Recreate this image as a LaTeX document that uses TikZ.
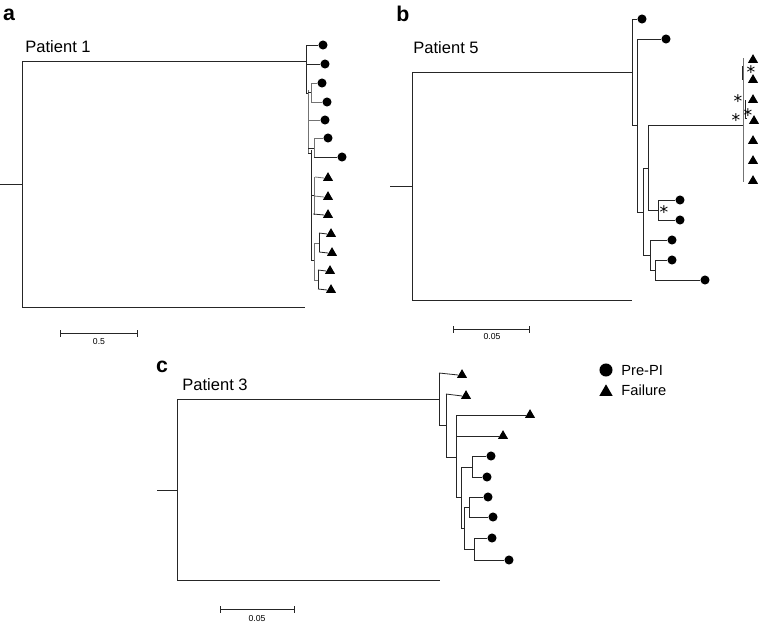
\documentclass[tikz,border=0pt]{standalone}
\usepackage{fontspec}
\setmainfont{Liberation Sans}
\newfontfamily\djvast{DejaVu Sans}
\usetikzlibrary{shapes.geometric}
\begin{document}
\begin{tikzpicture}[x=0.75pt,y=-0.75pt,
  every path/.style={line width=0.6pt},
  br/.style={draw=black!85},
  gbr/.style={draw=black!55},
  cir/.style={circle,fill=black,inner sep=0pt,minimum size=6.8pt},
  tri/.style={regular polygon,regular polygon sides=3,fill=black,inner sep=0pt,minimum size=8.8pt},
  ptitle/.style={font=\fontsize{12.4}{14}\selectfont,inner sep=0pt,anchor=base west},
  plabel/.style={font=\fontsize{16}{18}\selectfont\bfseries,inner sep=0pt},
  sclab/.style={font=\fontsize{6.5}{7}\selectfont,inner sep=0pt},
  astk/.style={font=\djvast\fontsize{13}{13}\selectfont,inner sep=0pt,anchor=base},
  legtxt/.style={font=\fontsize{11}{13}\selectfont,inner sep=0pt,anchor=base west}]
\useasboundingbox[fill=white] (0,0) rectangle (763,625);

% ---------------- Panel a ----------------
\node[plabel] (la) at (9,15) {a};
\node[ptitle] (ta) at (25,52) {Patient 1};
\coordinate (aroot) at (22,184);
\coordinate (astub) at (0,184);
\draw[br] (astub) -- (aroot);
\draw[br] (22,61) -- (22,307);
\draw[br] (22,61) -- (306,61);
\draw[br] (22,307) -- (305,307);
% tips
\node[cir] (a1) at (323,45) {};
\node[cir] (a2) at (325,64) {};
\node[cir] (a3) at (322,83) {};
\node[cir] (a4) at (327,102) {};
\node[cir] (a5) at (325,120) {};
\node[cir] (a6) at (328,138) {};
\node[cir] (a7) at (342,157) {};
\node[tri] (a8) at (328,178) {};
\node[tri] (a9) at (328,197) {};
\node[tri] (a10) at (328,215) {};
\node[tri] (a11) at (331,234) {};
\node[tri] (a12) at (332,253) {};
\node[tri] (a13) at (330,271) {};
\node[tri] (a14) at (331,290) {};
% branches
\draw[br] (306,45) -- (306,93);
\draw[br] (306,45) -- (a1.west);
\draw[br] (307,64) -- (a2.west);
\draw[br] (306,93) -- (308,93);
\draw[gbr] (308,90) -- (308,153);
\draw[br] (308,92) -- (311,92);
\draw[gbr] (311,83) -- (311,102);
\draw[gbr] (311,83) -- (a3.west);
\draw[gbr] (311,102) -- (a4.west);
\draw[gbr] (309,120) -- (a5.west);
\draw[br] (308,148) -- (314,148);
\draw[gbr] (314,138) -- (314,157);
\draw[gbr] (314,138) -- (a6.west);
\draw[br] (314,157) -- (a7.west);
\draw[br] (308,153) -- (311,153);
\draw[br] (311,150) -- (311,260);
\draw[br] (311,195) -- (314,195);
\draw[gbr] (314,177) -- (314,215);
\draw[gbr] (315,177) -- (a8.west);
\draw[gbr] (314,196) -- (a9.west);
\draw[br] (313,214) -- (a10.west);
\draw[br] (311,260) -- (314,260);
\draw[gbr] (314,243) -- (314,280);
\draw[gbr] (314,243) -- (319,243);
\draw[br] (319,233) -- (319,252);
\draw[br] (319,233) -- (a11.west);
\draw[br] (319,252) -- (a12.west);
\draw[gbr] (314,280) -- (318,280);
\draw[br] (318,270) -- (318,289);
\draw[br] (318,270) -- (a13.west);
\draw[br] (318,289) -- (a14.west);
% scale a
\coordinate (sa1) at (60,333);
\coordinate (sa2) at (137,333);
\draw[br] (sa1) -- (sa2);
\draw[br] (60,330) -- (60,337);
\draw[br] (137,330) -- (137,337);
\node[sclab] (sla) at (99,342) {0.5};

% ---------------- Panel b ----------------
\node[plabel] (lb) at (403,14) {b};
\node[ptitle] (tb) at (413,53) {Patient 5};
\draw[br] (390,186) -- (412,186);
\draw[br] (412,72) -- (412,300);
\draw[br] (412,72) -- (632,72);
\draw[br] (412,300) -- (632,300);
\node[cir] (b1) at (642,19) {};
\node[cir] (b2) at (666,39) {};
\node[cir] (b3) at (680,200) {};
\node[cir] (b4) at (680,220) {};
\node[cir] (b5) at (672,240) {};
\node[cir] (b6) at (672,260) {};
\node[cir] (b7) at (705,280) {};
\draw[br] (632,19) -- (632,125);
\draw[br] (632,19) -- (b1.west);
\draw[br] (632,125) -- (637,125);
\draw[br] (637,39) -- (637,212);
\draw[br] (637,39) -- (b2.west);
\draw[br] (637,212) -- (643,212);
\draw[br] (643,168) -- (643,255);
\draw[br] (643,168) -- (648,168);
\draw[br] (648,125) -- (648,210);
\draw[br] (648,125) -- (743,125);
\draw[br] (648,210) -- (658,210);
\draw[br] (658,200) -- (658,220);
\draw[br] (658,200) -- (b3.west);
\draw[br] (658,220) -- (b4.west);
\node[astk] (s1) at (664,218) {*};
\draw[br] (643,255) -- (650,255);
\draw[br] (650,240) -- (650,270);
\draw[br] (650,240) -- (b5.west);
\draw[br] (650,270) -- (655,270);
\draw[br] (655,260) -- (655,280);
\draw[br] (655,260) -- (b6.west);
\draw[br] (655,280) -- (b7.west);
% failure clade
\draw[gbr] (743,58) -- (743,182);
\draw[br] (742,66) -- (742,80);
\draw[br] (745,100) -- (745,118) -- (747,118);
\node[tri] (f1) at (753,60) {};
\node[tri] (f2) at (753,80) {};
\node[tri] (f3) at (753,100) {};
\node[tri] (f4) at (754,121) {};
\node[tri] (f5) at (753,141) {};
\node[tri] (f6) at (753,161) {};
\node[tri] (f7) at (753,181) {};
\node[astk] (s2) at (751,78) {*};
\node[astk] (s3) at (738,107) {*};
\node[astk] (s4) at (748,121) {*};
\node[astk] (s5) at (736,126) {*};
% scale b
\draw[br] (453,329) -- (529,329);
\draw[br] (453,326) -- (453,333);
\draw[br] (529,326) -- (529,333);
\node[sclab] (slb) at (492,337) {0.05};

% ---------------- Panel c ----------------
\node[plabel] (lc) at (162,367) {c};
\node[ptitle] (tc) at (182,390) {Patient 3};
\draw[br] (157,490) -- (177,490);
\draw[br] (177,399) -- (177,580);
\draw[br] (177,399) -- (439,399);
\draw[br] (177,580) -- (440,580);
\node[tri] (c1) at (462,375) {};
\node[tri] (c2) at (466,396) {};
\node[tri] (c3) at (530,415) {};
\node[tri] (c4) at (503,436) {};
\node[cir] (c5) at (491,456) {};
\node[cir] (c6) at (487,477) {};
\node[cir] (c7) at (488,497) {};
\node[cir] (c8) at (493,517) {};
\node[cir] (c9) at (492,538) {};
\node[cir] (c10) at (509,560) {};
\draw[br] (439,373) -- (439,425);
\draw[br] (439,373) -- (c1.west);
\draw[br] (439,425) -- (446,425);
\draw[br] (446,394) -- (446,457);
\draw[br] (446,394) -- (c2.west);
\draw[br] (446,457) -- (456,457);
\draw[br] (456,415) -- (456,497);
\draw[br] (456,415) -- (c3.west);
\draw[br] (456,436) -- (c4.west);
\draw[br] (456,497) -- (461,497);
\draw[br] (461,467) -- (461,528);
\draw[br] (461,467) -- (472,467);
\draw[br] (472,456) -- (472,477);
\draw[br] (472,456) -- (c5.west);
\draw[br] (472,477) -- (c6.west);
\draw[br] (461,528) -- (464,528);
\draw[br] (464,507) -- (464,549);
\draw[br] (464,507) -- (469,507);
\draw[br] (469,497) -- (469,517);
\draw[br] (469,497) -- (c7.west);
\draw[br] (469,517) -- (c8.west);
\draw[br] (464,549) -- (474,549);
\draw[br] (474,538) -- (474,560);
\draw[br] (474,538) -- (c9.west);
\draw[br] (474,560) -- (c10.west);
% scale c
\draw[br] (220,609) -- (294,609);
\draw[br] (220,606) -- (220,613);
\draw[br] (294,606) -- (294,613);
\node[sclab] (slc) at (257,619) {0.05};

% ---------------- Legend ----------------
\node[circle,fill=black,inner sep=0pt,minimum size=9.8pt] (lg1) at (606,370) {};
\node[regular polygon,regular polygon sides=3,fill=black,inner sep=0pt,minimum size=11.5pt] (lg2) at (606,392) {};
\node[legtxt] (lt1) at (621,375) {Pre-PI};
\node[legtxt] (lt2) at (621,395) {Failure};
\end{tikzpicture}
\end{document}
